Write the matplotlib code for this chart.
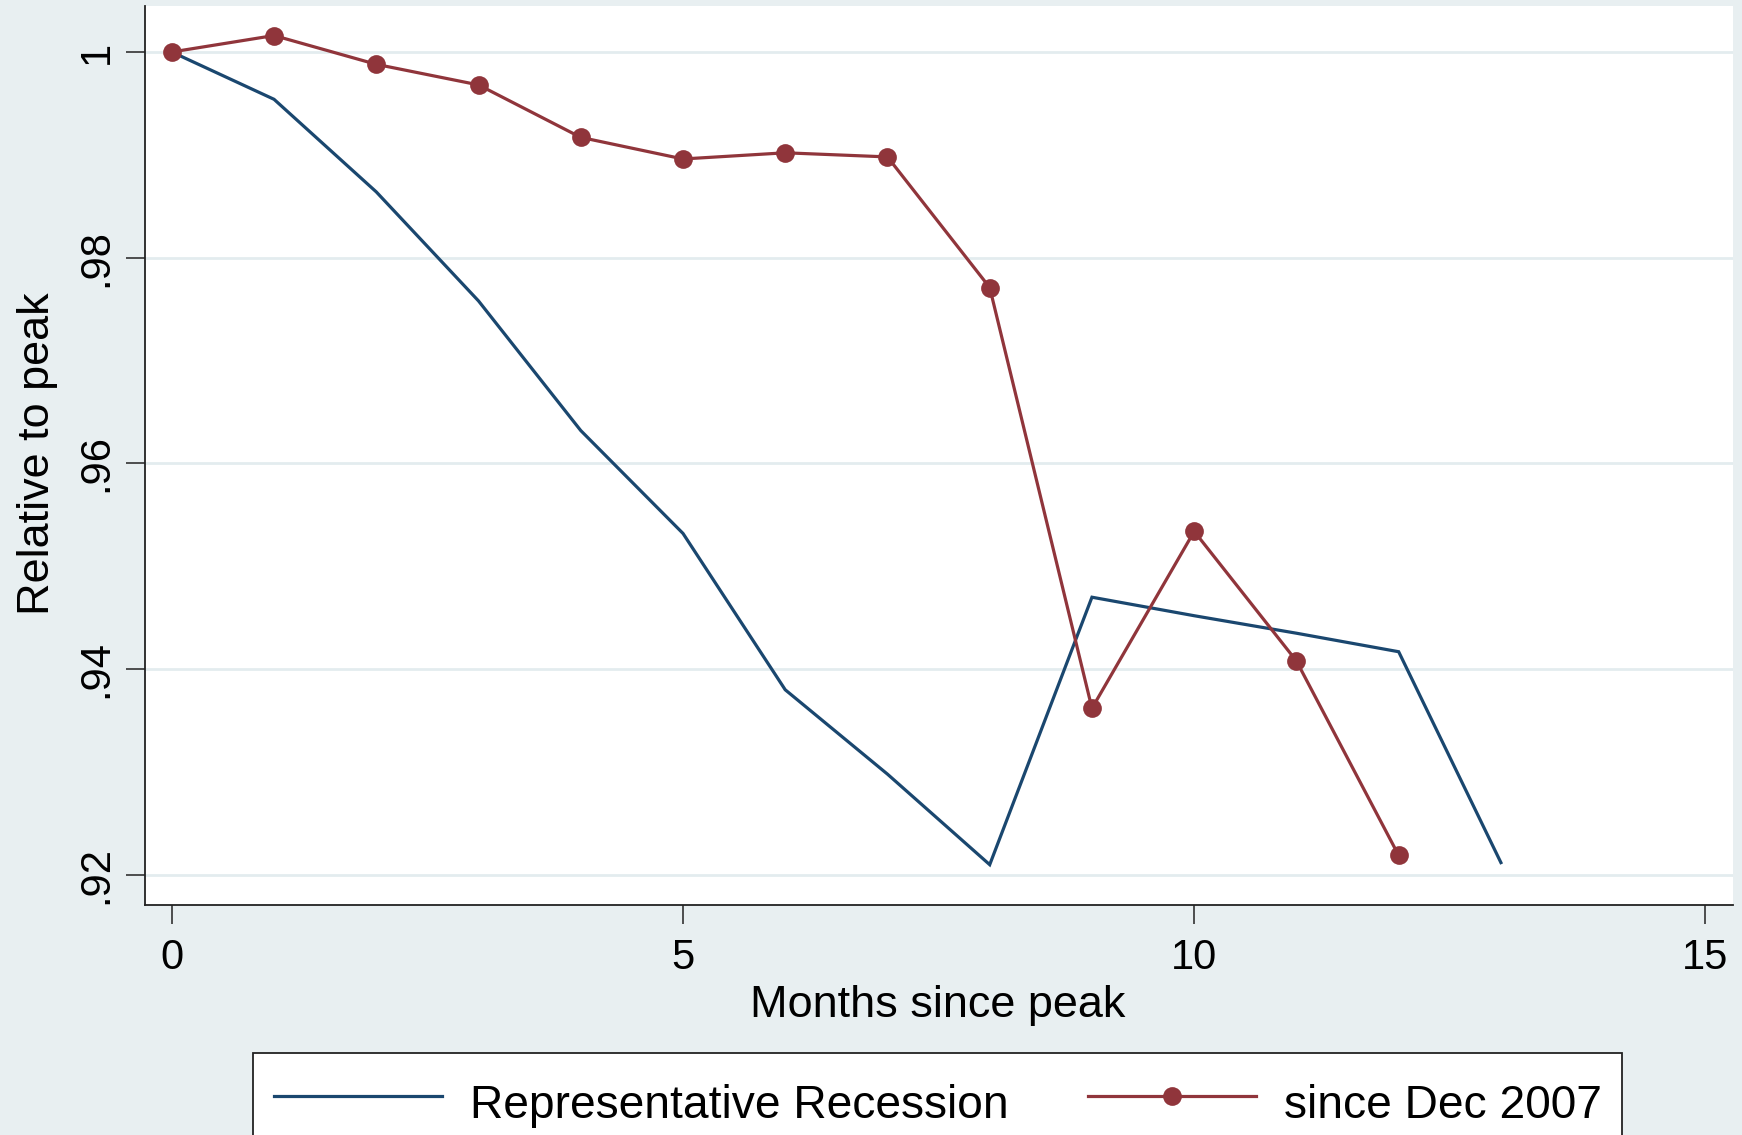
import matplotlib
matplotlib.use("Agg")
import matplotlib.pyplot as plt

plt.rcParams['font.family'] = ['Liberation Sans', 'DejaVu Sans']

# ---- data ----
rep_months = [0, 1, 2, 3, 4, 5, 6, 7, 8, 9, 10, 11, 12, 13]
rep_values = [1.0000, 0.9954, 0.9864, 0.9758, 0.9632, 0.9532, 0.9380,
              0.9298, 0.9210, 0.9470, 0.9452, 0.9435, 0.9417, 0.9212]
since_months = [0, 1, 2, 3, 4, 5, 6, 7, 8, 9, 10, 11, 12]
since_values = [1.0000, 1.0016, 0.9988, 0.9968, 0.9917, 0.9896, 0.9902,
                0.9898, 0.9771, 0.9362, 0.9534, 0.9408, 0.9219]
x_ticks = [0, 5, 10, 15]
x_tick_labels = ["0", "5", "10", "15"]
y_ticks = [1.00, 0.98, 0.96, 0.94, 0.92]
y_tick_labels = ["1", ".98", ".96", ".94", ".92"]
series_labels = ["Representative Recession", "since Dec 2007"]
x_label = "Months since peak"
y_label = "Relative to peak"

W, H = 1742, 1135
BG = '#E8EFF1'
GRID = '#E3ECEF'
BLUE = '#1A476F'
RED = '#90353B'

fig = plt.figure(figsize=(W / 100, H / 100), dpi=100, facecolor=BG)
L, R, T, B = 144.5, 1733, 6, 905
ax = fig.add_axes([L / W, 1 - B / H, (R - L) / W, (B - T) / H])
ax.set_facecolor('white')

ax.plot(rep_months, rep_values, color=BLUE, lw=2.3, label=series_labels[0],
        zorder=3, solid_joinstyle='miter')
ax.plot(since_months, since_values, color=RED, lw=2.3, marker='o', ms=13.5,
        markeredgewidth=0, label=series_labels[1], zorder=4)

ax.set_xlim(-0.267, 15.27)
ax.set_ylim(0.91708, 1.00447)

ax.set_xticks(x_ticks)
ax.set_xticklabels(x_tick_labels)
ax.set_yticks(y_ticks)
ax.set_yticklabels(y_tick_labels, rotation=90, va='center')

ax.grid(axis='y', color=GRID, lw=2.0, zorder=1)
ax.grid(axis='x', visible=False)
ax.set_axisbelow(True)

for s in ['top', 'right']:
    ax.spines[s].set_visible(False)
for s in ['left', 'bottom']:
    ax.spines[s].set_color('#222222')
    ax.spines[s].set_linewidth(1.3)

ax.tick_params(axis='both', which='major', length=13.5, width=1.1,
               color='#222222', labelsize=30, labelcolor='black')
ax.tick_params(axis='x', pad=10)
ax.tick_params(axis='y', pad=6.5)

fig.text(938 / W, 1 - 1017 / H, x_label, ha='center', va='baseline',
         fontsize=32.4, color='black')
fig.text(37 / W, 1 - 454 / H, y_label, ha='center', va='center',
         rotation=90, fontsize=32.4, color='black')

leg = fig.legend(loc='upper left', bbox_to_anchor=(253 / W, 1 - 1053 / H),
                 bbox_transform=fig.transFigure, ncol=2, fontsize=33.2,
                 frameon=True, fancybox=False, framealpha=1, borderaxespad=0,
                 borderpad=0.45, handlelength=3.64, handletextpad=0.61,
                 handleheight=1.55, columnspacing=1.72)
leg.get_frame().set_edgecolor('#222222')
leg.get_frame().set_linewidth(1.3)
leg.get_frame().set_facecolor('white')

fig.savefig('out.png', dpi=100, facecolor=BG)
